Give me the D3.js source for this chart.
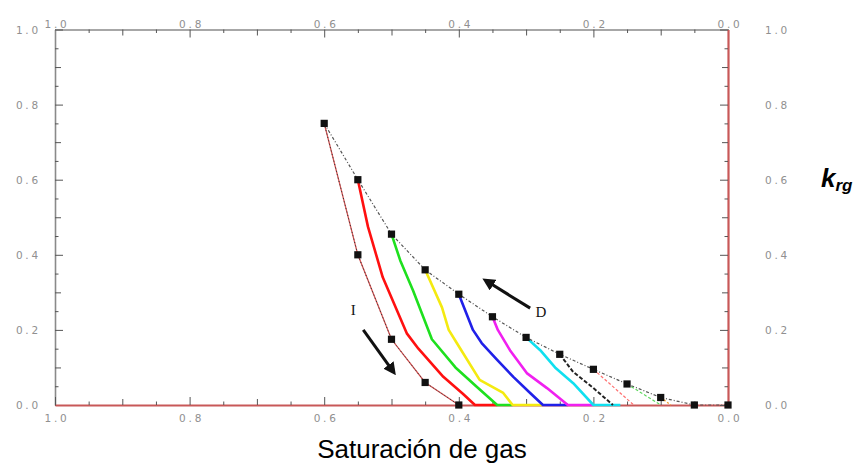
<!DOCTYPE html>
<html>
<head>
<meta charset="utf-8">
<script src="https://cdn.jsdelivr.net/npm/d3@7/dist/d3.min.js"></script>
<style>
  html, body { margin: 0; padding: 0; background: #fff; }
  svg { display: block; }
</style>
</head>
<body>
<svg id="chart" width="857" height="466"></svg>
<script>
// Gas relative permeability: primary drainage (D) and imbibition scanning curves (I)

// Primary drainage curve
const drainSg  = [0.60, 0.55, 0.50, 0.45, 0.40, 0.35, 0.30, 0.25, 0.20, 0.15, 0.10, 0.05, 0.00];
const drainKrg = [0.75, 0.60, 0.455, 0.36, 0.295, 0.235, 0.18, 0.135, 0.095, 0.056, 0.02, 0.0, 0.0];

// Bounding imbibition curve from the highest reversal point
const imbSg  = [0.60, 0.55, 0.50, 0.45, 0.40];
const imbKrg = [0.75, 0.40, 0.175, 0.06, 0.0];

// Scanning imbibition curves, one per reversal point on the drainage curve
const scanRedSg      = [0.55, 0.535, 0.513, 0.477, 0.46, 0.423, 0.394, 0.376, 0.343];
const scanRedKrg     = [0.60, 0.475, 0.34, 0.19, 0.15, 0.075, 0.03, 0.0, 0.0];
const scanGreenSg    = [0.50, 0.487, 0.468, 0.44, 0.405, 0.373, 0.343, 0.32];
const scanGreenKrg   = [0.455, 0.385, 0.305, 0.175, 0.10, 0.048, 0.0, 0.0];
const scanYellowSg   = [0.45, 0.425, 0.415, 0.403, 0.369, 0.334, 0.32, 0.275];
const scanYellowKrg  = [0.36, 0.26, 0.20, 0.165, 0.067, 0.032, 0.0, 0.0];
const scanBlueSg     = [0.40, 0.379, 0.366, 0.343, 0.319, 0.294, 0.275, 0.238];
const scanBlueKrg    = [0.295, 0.20, 0.165, 0.12, 0.075, 0.032, 0.0, 0.0];
const scanMagentaSg  = [0.35, 0.342, 0.324, 0.299, 0.269, 0.238, 0.20];
const scanMagentaKrg = [0.235, 0.20, 0.146, 0.085, 0.045, 0.0, 0.0];
const scanCyanSg     = [0.30, 0.279, 0.257, 0.23, 0.20, 0.16];
const scanCyanKrg    = [0.18, 0.146, 0.10, 0.058, 0.0, 0.0];
const scanBlackSg    = [0.25, 0.23, 0.20, 0.171];
const scanBlackKrg   = [0.135, 0.088, 0.045, 0.0];
const scanPinkSg     = [0.20, 0.14];
const scanPinkKrg    = [0.095, 0.0];
const scanLimeSg     = [0.15, 0.10];
const scanLimeKrg    = [0.056, 0.0];
const scanOrangeSg   = [0.10, 0.085];
const scanOrangeKrg  = [0.02, 0.0];

// Axis ticks and labels
const majorTicks = [0.0, 0.2, 0.4, 0.6, 0.8, 1.0];
const tickLabels = ["0.0", "0.2", "0.4", "0.6", "0.8", "1.0"];

// Direction annotations [Sg, krg]
const arrowI = [[0.542, 0.20], [0.499, 0.093]];
const arrowD = [[0.294, 0.258], [0.357, 0.328]];
const labelI = [0.557, 0.253];
const labelD = [0.278, 0.248];

const svg = d3.select("#chart");
const x = d3.scaleLinear().domain([1, 0]).range([55, 728]);
const y = d3.scaleLinear().domain([0, 1]).range([405, 29.5]);

const zip = (a, b) => a.map((v, i) => [v, b[i]]);
const line = d3.line().x(d => x(d[0])).y(d => y(d[1]));

const grey = "#8a8a8a";
const axisRed = "#c85858";
const minor05 = d3.range(0, 1.0001, 0.05).map(v => +v.toFixed(2));
const isMajor = v => Math.abs(v * 5 - Math.round(v * 5)) < 1e-6;
const isTenth = v => Math.abs(v * 10 - Math.round(v * 10)) < 1e-6;
const tickLen = v => isMajor(v) ? 8 : (isTenth(v) ? 6 : 3.5);
const labelOf = v => tickLabels[majorTicks.findIndex(t => Math.abs(t - v) < 1e-6)];

// Axis frame lines with inward ticks
function drawAxis(side, color, width) {
  const g = svg.append("g").attr("class", "axis-" + side);
  let gen;
  if (side === "top") gen = d3.axisTop(x).tickValues(minor05);
  if (side === "bottom") gen = d3.axisBottom(x).tickValues(minor05);
  if (side === "left") gen = d3.axisLeft(y).tickValues(minor05);
  if (side === "right") gen = d3.axisRight(y).tickValues(minor05);
  gen.tickSizeOuter(0).tickSizeInner(0).tickFormat(() => "");
  const tr = { top: [0, y(1)], bottom: [0, y(0)], left: [x(1), 0], right: [x(0), 0] }[side];
  g.attr("transform", `translate(${tr[0]},${tr[1]})`).call(gen);
  g.select(".domain").attr("stroke", color).attr("stroke-width", width);
  g.selectAll(".tick line")
    .attr("stroke", "#555")
    .attr("stroke-width", 1)
    .each(function(d) {
      const L = tickLen(d);
      const s = d3.select(this);
      if (side === "top") s.attr("y2", L);
      if (side === "bottom") s.attr("y2", -L);
      if (side === "left") s.attr("x2", L);
      if (side === "right") s.attr("x2", -L);
    });
  g.selectAll(".tick text").remove();
  return g;
}
drawAxis("top", grey, 1.6);
drawAxis("left", grey, 1.6);

// Tick labels
const labelStyle = sel => sel
  .attr("font-family", "DejaVu Sans, sans-serif")
  .attr("font-size", 10.5)
  .attr("letter-spacing", 2.8)
  .attr("fill", "#909090");

labelStyle(svg.append("g").selectAll("text").data(majorTicks).join("text"))
  .attr("x", d => x(d) + 2).attr("y", y(1) - 2)
  .attr("text-anchor", "middle").text(d => labelOf(d));
labelStyle(svg.append("g").selectAll("text").data(majorTicks).join("text"))
  .attr("x", d => x(d) + 2).attr("y", y(0) + 17)
  .attr("text-anchor", "middle").text(d => labelOf(d));
labelStyle(svg.append("g").selectAll("text").data(majorTicks).join("text"))
  .attr("x", x(1) - 14).attr("y", d => y(d) + 4)
  .attr("text-anchor", "end").text(d => labelOf(d));
labelStyle(svg.append("g").selectAll("text").data(majorTicks).join("text"))
  .attr("x", x(0) + 37).attr("y", d => y(d) + 4)
  .attr("text-anchor", "start").text(d => labelOf(d));

drawAxis("bottom", axisRed, 2.2);
drawAxis("right", axisRed, 2.2);

// Scanning curves
const scans = [
  { sg: scanRedSg,     k: scanRedKrg,     color: "#ff1010", w: 2.6, dash: null },
  { sg: scanGreenSg,   k: scanGreenKrg,   color: "#1ee01e", w: 2.6, dash: null },
  { sg: scanYellowSg,  k: scanYellowKrg,  color: "#f4ea10", w: 2.6, dash: null },
  { sg: scanBlueSg,    k: scanBlueKrg,    color: "#2020e8", w: 2.6, dash: null },
  { sg: scanMagentaSg, k: scanMagentaKrg, color: "#f020f0", w: 2.6, dash: null },
  { sg: scanCyanSg,    k: scanCyanKrg,    color: "#10e0f0", w: 2.6, dash: null },
  { sg: scanBlackSg,   k: scanBlackKrg,   color: "#222",    w: 2.0, dash: "4,2" },
  { sg: scanPinkSg,    k: scanPinkKrg,    color: "#ff7070", w: 1.2, dash: "3,2" },
  { sg: scanLimeSg,    k: scanLimeKrg,    color: "#60d860", w: 1.2, dash: "3,2" },
  { sg: scanOrangeSg,  k: scanOrangeKrg,  color: "#f0a030", w: 1.4, dash: "2,2" }
];
svg.append("g").selectAll("path").data(scans).join("path")
  .attr("d", d => line(zip(d.sg, d.k)))
  .attr("fill", "none")
  .attr("stroke", d => d.color)
  .attr("stroke-width", d => d.w)
  .attr("stroke-dasharray", d => d.dash)
  .attr("stroke-linejoin", "round");

// Bounding imbibition curve: thin red with black dots
const imbPts = zip(imbSg, imbKrg);
svg.append("path").attr("d", line(imbPts))
  .attr("fill", "none").attr("stroke", "#d05050").attr("stroke-width", 1.3);
svg.append("path").attr("d", line(imbPts))
  .attr("fill", "none").attr("stroke", "#333").attr("stroke-width", 1)
  .attr("stroke-dasharray", "1,2.5");

// Drainage curve: dash-dot
const drainPts = zip(drainSg, drainKrg);
svg.append("path").attr("d", line(drainPts))
  .attr("fill", "none").attr("stroke", "#555").attr("stroke-width", 1.2)
  .attr("stroke-dasharray", "3,2,1,2");

// Markers
const sq = d3.symbol().type(d3.symbolSquare).size(52);
svg.append("g").selectAll("path").data(drainPts.concat(imbPts.slice(1))).join("path")
  .attr("d", sq)
  .attr("transform", d => `translate(${x(d[0])},${y(d[1])})`)
  .attr("fill", "#111");

// Direction arrows
const defs = svg.append("defs");
defs.append("marker").attr("id", "head")
  .attr("viewBox", "0 0 10 10").attr("refX", 5).attr("refY", 5)
  .attr("markerWidth", 4.2).attr("markerHeight", 4.2)
  .attr("markerUnits", "strokeWidth")
  .attr("orient", "auto")
  .append("path").attr("d", "M0,0 L10,5 L0,10 z").attr("fill", "#111");

[arrowI, arrowD].forEach(a => {
  svg.append("line")
    .attr("x1", x(a[0][0])).attr("y1", y(a[0][1]))
    .attr("x2", x(a[1][0])).attr("y2", y(a[1][1]))
    .attr("stroke", "#111").attr("stroke-width", 3)
    .attr("marker-end", "url(#head)");
});

svg.append("text").attr("x", x(labelI[0])).attr("y", y(labelI[1]) + 5)
  .attr("text-anchor", "middle")
  .attr("font-family", "Liberation Serif, DejaVu Serif, serif")
  .attr("font-size", 15).attr("fill", "#111").text("I");
svg.append("text").attr("x", x(labelD[0])).attr("y", y(labelD[1]) + 5)
  .attr("text-anchor", "middle")
  .attr("font-family", "Liberation Serif, DejaVu Serif, serif")
  .attr("font-size", 15).attr("fill", "#111").text("D");

// Axis titles
svg.append("text").attr("x", 422).attr("y", 458)
  .attr("text-anchor", "middle")
  .attr("font-family", "Liberation Sans, Arial, sans-serif")
  .attr("font-size", 26).attr("fill", "#000")
  .text("Saturación de gas");

const kt = svg.append("text").attr("x", 821).attr("y", 187)
  .attr("font-family", "Liberation Sans, Arial, sans-serif")
  .attr("font-weight", "bold").attr("font-style", "italic")
  .attr("fill", "#000");
kt.append("tspan").attr("font-size", 26).text("k");
kt.append("tspan").attr("font-size", 17).attr("dy", 4).text("rg");
</script>
</body>
</html>
